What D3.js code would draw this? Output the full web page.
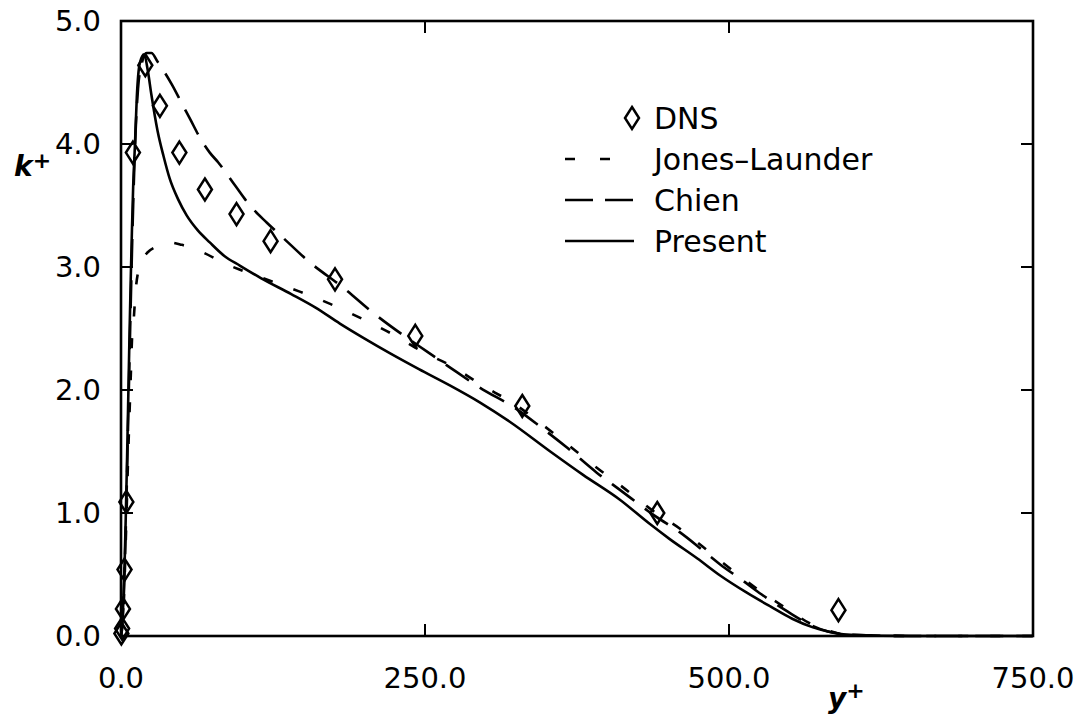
<!DOCTYPE html>
<html>
<head>
<meta charset="utf-8">
<script src="https://cdn.jsdelivr.net/npm/d3@7/dist/d3.min.js"></script>
<style>
  html, body { margin: 0; padding: 0; background: #fff; }
  svg { display: block; }
  text { font-family: "DejaVu Sans", sans-serif; fill: #000; }
</style>
</head>
<body>
<svg id="chart" width="1083" height="717"></svg>
<script>
// ---------------- data ----------------
const xTicks = [0, 250, 500, 750];
const yTicks = [0, 1, 2, 3, 4, 5];

const dnsX = [0.3, 0.9, 1.6, 2.9, 4.4, 9.8, 20, 32, 48, 69, 95, 123, 176, 242, 330, 441, 590];
const dnsK = [0.02, 0.06, 0.22, 0.54, 1.09, 3.93, 4.64, 4.31, 3.93, 3.63, 3.43, 3.21, 2.9, 2.44, 1.87, 1.0, 0.21];

const presentX = [0, 1, 2, 3, 4, 5, 6, 7, 8, 9, 10, 11.5, 13, 15.5, 19, 22, 25, 30, 35, 40, 47, 54, 63, 73, 85, 98, 115, 140, 160, 180, 200, 221, 245, 270, 295, 320, 353, 380, 410, 435, 451, 474, 493, 515, 534, 552, 569, 580, 589, 600, 650, 750];
const presentK = [0, 0.1, 0.3, 0.6, 1.0, 1.45, 1.95, 2.45, 2.9, 3.3, 3.65, 4.0, 4.38, 4.66, 4.73, 4.6, 4.4, 4.11, 3.9, 3.72, 3.55, 3.42, 3.3, 3.2, 3.09, 3.01, 2.91, 2.78, 2.67, 2.54, 2.42, 2.3, 2.17, 2.04, 1.9, 1.74, 1.5, 1.31, 1.11, 0.91, 0.79, 0.63, 0.49, 0.35, 0.24, 0.14, 0.07, 0.04, 0.02, 0.01, 0, 0];

const chienX = [0, 2, 4, 6, 8, 10, 12, 14, 17, 21, 25, 30, 36, 42, 50, 57, 65, 73, 80, 94, 106, 120, 133, 155, 183, 207, 230, 252, 271, 295, 326, 345, 367, 391, 410, 440, 460, 478, 493, 510, 525, 548, 567, 580, 590, 600, 650, 750];
const chienK = [0, 0.25, 0.9, 1.8, 2.7, 3.5, 4.1, 4.45, 4.65, 4.74, 4.74, 4.67, 4.58, 4.48, 4.33, 4.2, 4.05, 3.93, 3.85, 3.66, 3.5, 3.36, 3.24, 3.04, 2.83, 2.63, 2.46, 2.31, 2.18, 2.02, 1.84, 1.7, 1.53, 1.33, 1.19, 0.97, 0.84, 0.7, 0.58, 0.46, 0.35, 0.2, 0.09, 0.04, 0.02, 0.01, 0, 0];

const jonesX = [0, 2, 4, 6, 8, 9, 10.5, 12, 15, 18, 22, 30, 40, 50, 67, 85, 100, 122, 147, 172, 198, 224, 250, 271, 295, 326, 345, 367, 391, 410, 440, 460, 478, 493, 510, 525, 548, 567, 580, 590, 600, 650, 750];
const jonesK = [0, 0.2, 0.8, 1.5, 2.1, 2.4, 2.58, 2.8, 3.0, 3.07, 3.12, 3.17, 3.2, 3.18, 3.12, 3.03, 2.97, 2.89, 2.8, 2.7, 2.58, 2.45, 2.3, 2.2, 2.05, 1.87, 1.73, 1.56, 1.37, 1.23, 1.0, 0.87, 0.73, 0.61, 0.48, 0.37, 0.22, 0.1, 0.05, 0.02, 0.01, 0, 0];

const legendLabels = ["DNS", "Jones\u2013Launder", "Chien", "Present"];

// ---------------- layout ----------------
const svg = d3.select("#chart");
const x = d3.scaleLinear().domain([0, 750]).range([121, 1033]);
const y = d3.scaleLinear().domain([0, 5]).range([636, 21]);

const zip = (xs, ks) => xs.map((v, i) => [v, ks[i]]);
const line = d3.line().x(d => x(d[0])).y(d => y(d[1])).curve(d3.curveMonotoneX);

// frame
svg.append("rect")
  .attr("x", x(0)).attr("y", y(5))
  .attr("width", x(750) - x(0)).attr("height", y(0) - y(5))
  .attr("fill", "none").attr("stroke", "#000").attr("stroke-width", 2.6);

// inner ticks on all sides
const tl = 12;
const innerX = xTicks.filter(t => t > 0 && t < 750);
const innerY = yTicks.filter(t => t > 0 && t < 5);
const tg = svg.append("g").attr("stroke", "#000").attr("stroke-width", 2);
innerX.forEach(t => {
  tg.append("line").attr("x1", x(t)).attr("x2", x(t)).attr("y1", y(0)).attr("y2", y(0) - tl);
  tg.append("line").attr("x1", x(t)).attr("x2", x(t)).attr("y1", y(5)).attr("y2", y(5) + tl);
});
innerY.forEach(t => {
  tg.append("line").attr("x1", x(0)).attr("x2", x(0) + tl).attr("y1", y(t)).attr("y2", y(t));
  tg.append("line").attr("x1", x(750)).attr("x2", x(750) - tl).attr("y1", y(t)).attr("y2", y(t));
});

// tick labels
svg.append("g").selectAll("text").data(xTicks).join("text")
  .attr("x", d => x(d)).attr("y", 688)
  .attr("text-anchor", "middle").attr("font-size", 29)
  .text(d => d.toFixed(1));
svg.append("g").selectAll("text").data(yTicks).join("text")
  .attr("x", 101).attr("y", d => y(d) + 10)
  .attr("text-anchor", "end").attr("font-size", 29)
  .text(d => d.toFixed(1));

// axis titles
const kt = svg.append("text").attr("x", 14).attr("y", 176)
  .attr("font-family", "DejaVu Serif").attr("font-style", "italic").attr("font-weight", "bold")
  .attr("font-size", 28);
kt.append("tspan").text("k");
kt.append("tspan").attr("font-size", 22).attr("dy", -8).text("+");
const yt = svg.append("text").attr("x", 828).attr("y", 708)
  .attr("font-family", "DejaVu Serif").attr("font-style", "italic").attr("font-weight", "bold")
  .attr("font-size", 28);
yt.append("tspan").text("y");
yt.append("tspan").attr("font-size", 22).attr("dy", -10).text("+");

// curves
const curveG = svg.append("g").attr("fill", "none").attr("stroke", "#000").attr("stroke-width", 2.6);
curveG.append("path").attr("d", line(zip(jonesX, jonesK))).attr("stroke-dasharray", "10,22");
curveG.append("path").attr("d", line(zip(chienX, chienK))).attr("stroke-dasharray", "28,13");
curveG.append("path").attr("d", line(zip(presentX, presentK)));

// DNS diamonds
const diamond = (cx, cy) => `M${cx},${cy - 11}L${cx + 7},${cy}L${cx},${cy + 11}L${cx - 7},${cy}Z`;
svg.append("g").selectAll("path").data(zip(dnsX, dnsK)).join("path")
  .attr("d", d => diamond(x(d[0]), y(d[1])))
  .attr("fill", "none").attr("stroke", "#000").attr("stroke-width", 2.5);

// legend
const ly = [118, 159, 200, 241];
const lg = svg.append("g");
lg.append("path").attr("d", diamond(632, ly[0])).attr("fill", "none").attr("stroke", "#000").attr("stroke-width", 2.5);
const dashes = ["10,25", "28,12", null];
dashes.forEach((da, i) => {
  const p = lg.append("line").attr("x1", 565).attr("x2", 634).attr("y1", ly[i + 1]).attr("y2", ly[i + 1])
    .attr("stroke", "#000").attr("stroke-width", 2.6);
  if (da) p.attr("stroke-dasharray", da);
});
lg.selectAll("text").data(legendLabels).join("text")
  .attr("x", 654).attr("y", (d, i) => ly[i] + 11)
  .attr("font-size", 30)
  .text(d => d);
</script>
</body>
</html>
